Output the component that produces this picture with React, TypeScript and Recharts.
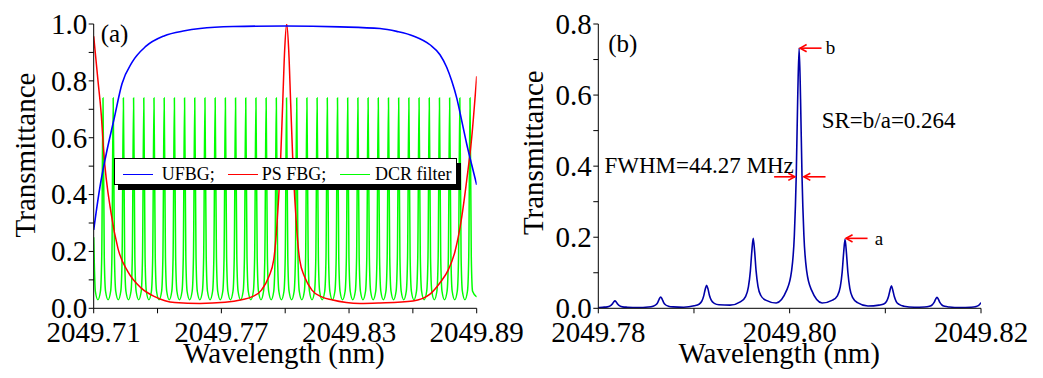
import React from 'react';
import { LineChart, Line, XAxis, YAxis, Legend, ReferenceDot } from 'recharts';

const FONT = "'Liberation Serif', 'Times New Roman', Times, serif";

// ---------- Panel (a) ----------
const xTicksA = [2049.71, 2049.74, 2049.77, 2049.8, 2049.83, 2049.86, 2049.89];
const xLabelsA = [2049.71, 2049.77, 2049.83, 2049.89];
const yTicksA = [0, 0.1, 0.2, 0.3, 0.4, 0.5, 0.6, 0.7, 0.8, 0.9, 1.0];
const yLabelsA = [0, 0.2, 0.4, 0.6, 0.8, 1.0];

const ufbgPoints: [number, number][] = [
  [2049.71, 0.276], [2049.71296, 0.428], [2049.71564, 0.534], [2049.71954, 0.665],
  [2049.7233, 0.79], [2049.728, 0.865], [2049.73444, 0.921], [2049.74304, 0.958],
  [2049.75277, 0.976], [2049.75996, 0.984], [2049.77547, 0.991], [2049.8, 0.993],
  [2049.82575, 0.99], [2049.84455, 0.984], [2049.8524, 0.974], [2049.8602, 0.958],
  [2049.86805, 0.927], [2049.87275, 0.892], [2049.8759, 0.848], [2049.87825, 0.8],
  [2049.8806, 0.74], [2049.88295, 0.66], [2049.8853, 0.578], [2049.88765, 0.505],
  [2049.89, 0.434],
];

const psfbgPoints: [number, number][] = [
  [2049.71, 0.957], [2049.71202, 0.8], [2049.71357, 0.68], [2049.71461, 0.56],
  [2049.71827, 0.33], [2049.72142, 0.21], [2049.72612, 0.128], [2049.73237, 0.071],
  [2049.73867, 0.041], [2049.74807, 0.02], [2049.75996, 0.017], [2049.77171, 0.021],
  [2049.77955, 0.03], [2049.78425, 0.04], [2049.78895, 0.065], [2049.79224, 0.11],
  [2049.79459, 0.17], [2049.796, 0.28], [2049.79694, 0.39], [2049.79788, 0.53],
  [2049.79882, 0.72], [2049.79976, 0.91], [2049.8007, 1.0], [2049.80164, 0.91],
  [2049.80258, 0.72], [2049.80352, 0.53], [2049.80446, 0.39], [2049.8054, 0.28],
  [2049.80681, 0.17], [2049.80916, 0.11], [2049.81245, 0.065], [2049.81715, 0.04],
  [2049.82185, 0.03], [2049.83515, 0.017], [2049.84455, 0.019], [2049.86006, 0.026],
  [2049.86805, 0.05], [2049.87275, 0.09], [2049.87665, 0.135], [2049.8798, 0.2],
  [2049.88295, 0.32], [2049.8853, 0.45], [2049.88765, 0.6], [2049.89, 0.816],
];

// DCR filter comb: peak wavelengths, plus the read line shape of one tooth
const dcrPeaks = [
  2049.71437, 2049.71916, 2049.72395, 2049.72874, 2049.73354, 2049.73833, 2049.74312,
  2049.74791, 2049.7527, 2049.75749, 2049.76228, 2049.76708, 2049.77187, 2049.77666,
  2049.78145, 2049.78624, 2049.79103, 2049.79582, 2049.80062, 2049.80541, 2049.8102,
  2049.81499, 2049.81978, 2049.82457, 2049.82936, 2049.83416, 2049.83895, 2049.84374,
  2049.84853, 2049.85332, 2049.85811, 2049.8629, 2049.8677, 2049.87249, 2049.87728,
  2049.88207, 2049.88686,
];
const dcrToothOffsets = [-0.0012, -0.0006, 0, 0.0006, 0.0012];
const dcrToothValues = [0.06, 0.18, 0.74, 0.18, 0.06];
const dcrValleyOffset = -0.0024;
const dcrValleyValue = 0.03;
const dcrStartPoints: [number, number][] = [[2049.71, 0.25], [2049.71078, 0.06]];
const dcrEndPoints: [number, number][] = [[2049.89, 0.04]];

const legendNamesA = ['UFBG;', 'PS FBG;', 'DCR filter'];
const legendColorsA = ['#0000ff', '#ff0000', '#00ff00'];

// ---------- Panel (b) ----------
const xTicksB = [2049.78, 2049.79, 2049.8, 2049.81, 2049.82];
const xLabelsB = [2049.78, 2049.8, 2049.82];
const yTicksB = [0, 0.1, 0.2, 0.3, 0.4, 0.5, 0.6, 0.7, 0.8];
const yLabelsB = [0, 0.2, 0.4, 0.6, 0.8];

const outputPoints: [number, number][] = [
  [2049.78, 0.002], [2049.78044, 0.003], [2049.78094, 0.004], [2049.78124, 0.007],
  [2049.78144, 0.0115], [2049.78159, 0.017], [2049.78174, 0.021], [2049.78189, 0.017],
  [2049.78204, 0.0115], [2049.78224, 0.007], [2049.78254, 0.004], [2049.78304, 0.003],
  [2049.78413, 0.002],
  [2049.78522, 0.0035], [2049.78572, 0.006], [2049.78602, 0.01], [2049.78622, 0.017],
  [2049.78637, 0.026], [2049.78652, 0.032], [2049.78667, 0.026], [2049.78682, 0.017],
  [2049.78702, 0.01], [2049.78732, 0.006], [2049.78782, 0.004], [2049.78892, 0.003],
  [2049.79002, 0.007], [2049.79052, 0.0115], [2049.79082, 0.02], [2049.79102, 0.035],
  [2049.79117, 0.053], [2049.79132, 0.065], [2049.79147, 0.054], [2049.79162, 0.036],
  [2049.79182, 0.022], [2049.79212, 0.014], [2049.79262, 0.01], [2049.79376, 0.009],
  [2049.79489, 0.019], [2049.79539, 0.033], [2049.79569, 0.06], [2049.79589, 0.104],
  [2049.79604, 0.158], [2049.79619, 0.197], [2049.79634, 0.16], [2049.79649, 0.106],
  [2049.79669, 0.062], [2049.79699, 0.036], [2049.79749, 0.023], [2049.79859, 0.015],
  [2049.79969, 0.051], [2049.80019, 0.103], [2049.80049, 0.205], [2049.80069, 0.374],
  [2049.80084, 0.589], [2049.80099, 0.732], [2049.80114, 0.589], [2049.80129, 0.374],
  [2049.80149, 0.205], [2049.80179, 0.103], [2049.80229, 0.051], [2049.80339, 0.015],
  [2049.80449, 0.023], [2049.80499, 0.035], [2049.80529, 0.06], [2049.80549, 0.102],
  [2049.80564, 0.155], [2049.80579, 0.194], [2049.80594, 0.154], [2049.80609, 0.1],
  [2049.80629, 0.056], [2049.80659, 0.03], [2049.80709, 0.016], [2049.80819, 0.0065],
  [2049.80934, 0.009], [2049.80984, 0.012], [2049.81014, 0.02], [2049.81034, 0.034],
  [2049.81049, 0.051], [2049.81064, 0.063], [2049.81079, 0.05], [2049.81094, 0.033],
  [2049.81114, 0.019], [2049.81144, 0.011], [2049.81194, 0.006], [2049.81302, 0.003],
  [2049.8141, 0.0035], [2049.8146, 0.0055], [2049.8149, 0.0097], [2049.8151, 0.0165],
  [2049.81525, 0.025], [2049.8154, 0.031], [2049.81555, 0.025], [2049.8157, 0.0165],
  [2049.8159, 0.0097], [2049.8162, 0.0055], [2049.8167, 0.0035], [2049.8178, 0.002],
  [2049.81891, 0.003], [2049.81941, 0.0045], [2049.81971, 0.0073], [2049.82, 0.016],
];
const peakB: [number, number] = [2049.80099, 0.732];
const peakA: [number, number] = [2049.80579, 0.194];
const fwhmLevel = 0.37;
const srAnchor: [number, number] = [2049.80335, 0.507];

// ---------- helpers ----------
type Row = { x: number; y: number };
const toRows = (pts: [number, number][]): Row[] => pts.map(([x, y]) => ({ x, y }));

const buildDcr = (): Row[] => {
  const rows: Row[] = toRows(dcrStartPoints);
  dcrPeaks.forEach((p) => {
    const vx = p + dcrValleyOffset;
    if (vx > rows[rows.length - 1].x) rows.push({ x: vx, y: dcrValleyValue });
    dcrToothOffsets.forEach((o, i) => rows.push({ x: p + o, y: dcrToothValues[i] }));
  });
  toRows(dcrEndPoints).forEach((r) => rows.push(r));
  return rows.filter((r) => r.x >= 2049.71 && r.x <= 2049.89);
};

const ufbgRows = toRows(ufbgPoints);
const psfbgRows = toRows(psfbgPoints);
const dcrRows = buildDcr();
const outputRows = toRows(outputPoints);

const isIn = (list: number[], v: number) => list.some((l) => Math.abs(l - v) < 1e-6);

const makeXTick = (labels: number[]) => (props: any) => {
  const { x, y, payload } = props;
  if (!isIn(labels, payload.value)) return <g />;
  return (
    <text x={x} y={y} dy={26.2} textAnchor="middle" fontSize={29} fontFamily={FONT} fill="#000">
      {Number(payload.value).toFixed(2)}
    </text>
  );
};

const makeYTick = (labels: number[]) => (props: any) => {
  const { x, y, payload } = props;
  if (!isIn(labels, payload.value)) return <g />;
  return (
    <text x={x} y={y} dy="0.34em" textAnchor="end" fontSize={29} fontFamily={FONT} fill="#000">
      {Number(payload.value).toFixed(1)}
    </text>
  );
};

const xTitle = (cx: number) => () => (
  <text x={cx} y={363} textAnchor="middle" fontSize={29} fontFamily={FONT} fill="#000">
    Wavelength (nm)
  </text>
);
const yTitle = (bx: number, cy: number) => () => (
  <text
    x={bx}
    y={cy}
    transform={`rotate(-90 ${bx} ${cy})`}
    textAnchor="middle"
    fontSize={29}
    fontFamily={FONT}
    fill="#000"
  >
    Transmittance
  </text>
);

const Arrow = ({ x1, x2, y }: { x1: number; x2: number; y: number }) => {
  const dir = x2 > x1 ? 1 : -1;
  return (
    <g stroke="#ff0000" strokeWidth={1.6} fill="none">
      <line x1={x1} y1={y} x2={x2} y2={y} />
      <polyline points={`${x2 - dir * 6.5},${y - 3.6} ${x2},${y} ${x2 - dir * 6.5},${y + 3.6}`} />
    </g>
  );
};

const renderLegendA = (props: any) => {
  const payload: any[] = props.payload || [];
  const lineLeft = [8, 113, 225];
  const textLeft = [46.7, 146.7, 260];
  return (
    <div
      style={{
        position: 'relative',
        width: 343,
        height: 27,
        boxSizing: 'border-box',
        border: '1px solid #000',
        background: '#fff',
        boxShadow: '4px 5px 0 #000',
        fontFamily: FONT,
        fontSize: 18,
        color: '#000',
      }}
    >
      {legendNamesA.map((name, i) => {
        const entry = payload.find((p) => p.value === name);
        const color = (entry && entry.color) || legendColorsA[i];
        return (
          <React.Fragment key={name}>
            <div
              style={{
                position: 'absolute',
                left: lineLeft[i],
                top: 15,
                width: 30,
                height: 0,
                borderTop: `1.5px solid ${color}`,
              }}
            />
            <span
              style={{
                position: 'absolute',
                left: textLeft[i],
                top: 5.6,
                lineHeight: '18px',
                whiteSpace: 'nowrap',
              }}
            >
              {name}
            </span>
          </React.Fragment>
        );
      })}
    </div>
  );
};

const axisCommon = {
  axisLine: { stroke: '#000', strokeWidth: 1 },
  tickLine: { stroke: '#000', strokeWidth: 1 },
  tickSize: 5,
  interval: 0 as const,
  allowDataOverflow: true,
};

export default function App() {
  return (
    <div style={{ position: 'absolute', left: 0, top: 0, width: 1043, height: 378, background: '#fff', overflow: 'hidden' }}>
      <div style={{ position: 'absolute', left: 0, top: 0 }}>
        <LineChart width={540} height={378} margin={{ top: 24, right: 63.3, bottom: 0, left: 0 }}>
          <XAxis
            type="number"
            dataKey="x"
            domain={[2049.71, 2049.89]}
            ticks={xTicksA}
            height={69.7}
            tickMargin={2}
            tick={makeXTick(xLabelsA)}
            label={xTitle(284)}
            {...axisCommon}
          />
          <YAxis
            type="number"
            domain={[0, 1]}
            ticks={yTicksA}
            width={93.7}
            tickMargin={1.5}
            tick={makeYTick(yLabelsA)}
            label={yTitle(35, 155)}
            {...axisCommon}
          />
          <Line
            data={dcrRows}
            dataKey="y"
            name="DCR filter"
            type="monotone"
            stroke={legendColorsA[2]}
            strokeWidth={1.5}
            dot={false}
            activeDot={false}
            isAnimationActive={false}
          />
          <Line
            data={psfbgRows}
            dataKey="y"
            name="PS FBG;"
            type="monotone"
            stroke={legendColorsA[1]}
            strokeWidth={1.5}
            dot={false}
            activeDot={false}
            isAnimationActive={false}
          />
          <Line
            data={ufbgRows}
            dataKey="y"
            name="UFBG;"
            type="monotone"
            stroke={legendColorsA[0]}
            strokeWidth={1.6}
            dot={false}
            activeDot={false}
            isAnimationActive={false}
          />
          <ReferenceDot
            x={2049.71}
            y={1.0}
            r={0}
            ifOverflow="visible"
            shape={(p: any) => (
              <text x={p.cx + 7} y={p.cy + 18} fontSize={25} fontFamily={FONT} fill="#000">
                (a)
              </text>
            )}
          />
          <Legend
            layout="horizontal"
            verticalAlign="middle"
            align="center"
            content={renderLegendA}
            wrapperStyle={{ left: 114, top: 158.3, width: 348, height: 33, margin: 0, padding: 0 }}
          />
        </LineChart>
      </div>
      <div style={{ position: 'absolute', left: 500, top: 0 }}>
        <LineChart width={543} height={378} margin={{ top: 24, right: 62, bottom: 0, left: 0 }}>
          <XAxis
            type="number"
            dataKey="x"
            domain={[2049.78, 2049.82]}
            ticks={xTicksB}
            height={69.7}
            tickMargin={2}
            tick={makeXTick(xLabelsB)}
            label={xTitle(279.2)}
            {...axisCommon}
          />
          <YAxis
            type="number"
            domain={[0, 0.8]}
            ticks={yTicksB}
            width={98.3}
            tickMargin={1.5}
            tick={makeYTick(yLabelsB)}
            label={yTitle(43, 152.7)}
            {...axisCommon}
          />
          <Line
            data={outputRows}
            dataKey="y"
            name="Output"
            type="monotone"
            stroke="#0000a8"
            strokeWidth={1.6}
            dot={false}
            activeDot={false}
            isAnimationActive={false}
          />
          <ReferenceDot
            x={2049.78}
            y={0.8}
            r={0}
            ifOverflow="visible"
            shape={(p: any) => (
              <text x={p.cx + 10} y={p.cy + 27.5} fontSize={25} fontFamily={FONT} fill="#000">
                (b)
              </text>
            )}
          />
          <ReferenceDot
            x={peakB[0]}
            y={peakB[1]}
            r={0}
            ifOverflow="visible"
            shape={(p: any) => (
              <g>
                <Arrow x1={p.cx + 22.4} x2={p.cx + 1} y={p.cy} />
                <text x={p.cx + 26.7} y={p.cy + 6} fontSize={19} fontFamily={FONT} fill="#000">
                  b
                </text>
              </g>
            )}
          />
          <ReferenceDot
            x={peakA[0]}
            y={peakA[1]}
            r={0}
            ifOverflow="visible"
            shape={(p: any) => (
              <g>
                <Arrow x1={p.cx + 22.5} x2={p.cx + 1} y={p.cy - 1} />
                <text x={p.cx + 29.8} y={p.cy + 5.7} fontSize={19} fontFamily={FONT} fill="#000">
                  a
                </text>
              </g>
            )}
          />
          <ReferenceDot
            x={peakB[0]}
            y={fwhmLevel}
            r={0}
            ifOverflow="visible"
            shape={(p: any) => (
              <g>
                <Arrow x1={p.cx - 25} x2={p.cx - 4.3} y={p.cy} />
                <Arrow x1={p.cx + 26.4} x2={p.cx + 4.7} y={p.cy} />
                <text x={p.cx - 5.3} y={p.cy - 3.5} textAnchor="end" fontSize={23} fontFamily={FONT} fill="#000">
                  FWHM=44.27 MHz
                </text>
              </g>
            )}
          />
          <ReferenceDot
            x={srAnchor[0]}
            y={srAnchor[1]}
            r={0}
            ifOverflow="visible"
            shape={(p: any) => (
              <text x={p.cx} y={p.cy} fontSize={23} fontFamily={FONT} fill="#000">
                SR=b/a=0.264
              </text>
            )}
          />
        </LineChart>
      </div>
    </div>
  );
}
